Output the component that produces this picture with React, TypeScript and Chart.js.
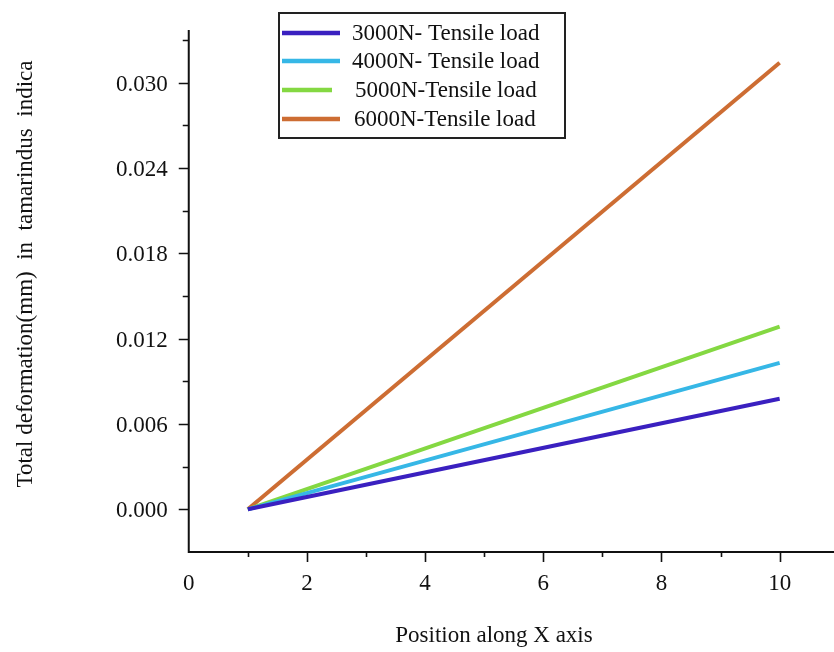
import React, { useEffect, useRef } from "react";
import { Chart, registerables } from "chart.js";

Chart.register(...registerables);

// Position along the specimen (x) where each deformation line starts and ends
const positions = [1, 10];

// Total deformation (mm) at each position, per tensile load
const load3000 = [0, 0.00778];
const load4000 = [0, 0.01030];
const load5000 = [0, 0.01285];
const load6000 = [0, 0.03140];

const seriesLabels = [
  "3000N- Tensile load",
  "4000N- Tensile load",
  "5000N-Tensile load",
  "6000N-Tensile load",
];
const seriesValues = [load3000, load4000, load5000, load6000];
const seriesColors = ["#3a20c0", "#36b7e6", "#84d842", "#cd6d33"];

const xTitle = "Position along X axis";
const yTitle = "Total deformation(mm)  in  tamarindus  indica";

const FONT = "'Liberation Serif', 'Times New Roman', serif";

// Axis lines, major/minor tick marks, axis titles and the boxed legend
const decorPlugin = {
  id: "decor",
  afterDraw(chart: any) {
    const ctx = chart.ctx as CanvasRenderingContext2D;
    const xs = chart.scales.x;
    const ys = chart.scales.y;
    const area = chart.chartArea;
    ctx.save();
    ctx.strokeStyle = "#111";
    ctx.lineWidth = 2;
    ctx.beginPath();
    ctx.moveTo(area.left, area.top);
    ctx.lineTo(area.left, area.bottom);
    ctx.moveTo(area.left - 1, area.bottom);
    ctx.lineTo(area.right, area.bottom);
    ctx.stroke();

    ctx.lineWidth = 1.6;
    ctx.beginPath();
    ys.ticks.forEach((t: any) => {
      const idx = Math.round(t.value / 0.003);
      if (idx < 0) return;
      const py = Math.round(ys.getPixelForValue(t.value)) + 0.5;
      const len = idx % 2 === 0 ? 10 : 6;
      ctx.moveTo(area.left - len, py);
      ctx.lineTo(area.left, py);
    });
    xs.ticks.forEach((t: any) => {
      const v = Math.round(t.value);
      if (v <= 0) return;
      const px = Math.round(xs.getPixelForValue(t.value)) + 0.5;
      const len = v % 2 === 0 ? 10 : 5;
      ctx.moveTo(px, area.bottom);
      ctx.lineTo(px, area.bottom + len);
    });
    ctx.stroke();

    // axis titles
    ctx.fillStyle = "#111";
    ctx.font = `23px ${FONT}`;
    ctx.textAlign = "center";
    ctx.textBaseline = "middle";
    ctx.fillText(xTitle, 494, 636);
    ctx.save();
    ctx.translate(26, 274);
    ctx.rotate(-Math.PI / 2);
    ctx.fillText(yTitle, 0, 0);
    ctx.restore();

    // legend box
    const boxL = 279, boxT = 13, boxR = 565, boxB = 138;
    ctx.fillStyle = "#fff";
    ctx.fillRect(boxL, boxT, boxR - boxL, boxB - boxT);
    ctx.strokeStyle = "#222";
    ctx.lineWidth = 2;
    ctx.strokeRect(boxL, boxT, boxR - boxL, boxB - boxT);
    const rowY = [33, 61, 90, 119];
    const sampleEnd = [340, 340, 332, 340];
    const textX = [352, 352, 355, 354];
    seriesLabels.forEach((label, i) => {
      ctx.strokeStyle = seriesColors[i];
      ctx.lineWidth = 4.5;
      ctx.beginPath();
      ctx.moveTo(boxL + 3, rowY[i]);
      ctx.lineTo(sampleEnd[i], rowY[i]);
      ctx.stroke();
      ctx.fillStyle = "#111";
      ctx.textAlign = "left";
      ctx.textBaseline = "middle";
      ctx.fillText(label, textX[i], rowY[i] + 1);
    });
    ctx.restore();
  },
};

export default function App() {
  const canvasRef = useRef<HTMLCanvasElement | null>(null);

  useEffect(() => {
    const canvas = canvasRef.current;
    if (!canvas) return;
    const chart = new Chart(canvas, {
      type: "line",
      data: {
        datasets: seriesValues.map((vals, i) => ({
          label: seriesLabels[i],
          data: positions.map((x, j) => ({ x, y: vals[j] })),
          borderColor: seriesColors[i],
          backgroundColor: seriesColors[i],
          borderWidth: 4,
          pointRadius: 0,
          tension: 0,
          fill: false,
        })),
      },
      options: {
        animation: false,
        responsive: false,
        layout: { padding: { top: 30, left: 0, right: 0, bottom: 0 } },
        plugins: {
          legend: { display: false },
          tooltip: { enabled: false },
        },
        scales: {
          x: {
            type: "linear",
            min: 0,
            max: 10.92,
            grid: { display: false },
            border: { display: false },
            ticks: {
              stepSize: 1,
              includeBounds: false,
              autoSkip: false,
              maxRotation: 0,
              padding: 10,
              color: "#111",
              font: { family: FONT, size: 23 },
              callback: (v: any) => {
                const n = Math.round(Number(v));
                return n % 2 === 0 ? String(n) : "";
              },
            },
            afterFit: (scale: any) => {
              scale.height = 100;
            },
          },
          y: {
            type: "linear",
            min: -0.003,
            max: 0.0337,
            grid: { display: false },
            border: { display: false },
            ticks: {
              stepSize: 0.003,
              includeBounds: false,
              autoSkip: false,
              padding: 13,
              labelOffset: 2,
              color: "#111",
              font: { family: FONT, size: 23 },
              callback: (v: any) => {
                const idx = Math.round(Number(v) / 0.003);
                if (idx < 0 || idx % 2 !== 0) return "";
                return (idx * 0.003).toFixed(3);
              },
            },
            afterFit: (scale: any) => {
              scale.width = 188.75;
            },
          },
        },
      },
      plugins: [decorPlugin],
    });
    return () => chart.destroy();
  }, []);

  return (
    <div style={{ position: "absolute", left: 0, top: 0, width: 834, height: 652, background: "#fff" }}>
      <canvas ref={canvasRef} width={834} height={652} style={{ width: 834, height: 652 }} />
    </div>
  );
}
